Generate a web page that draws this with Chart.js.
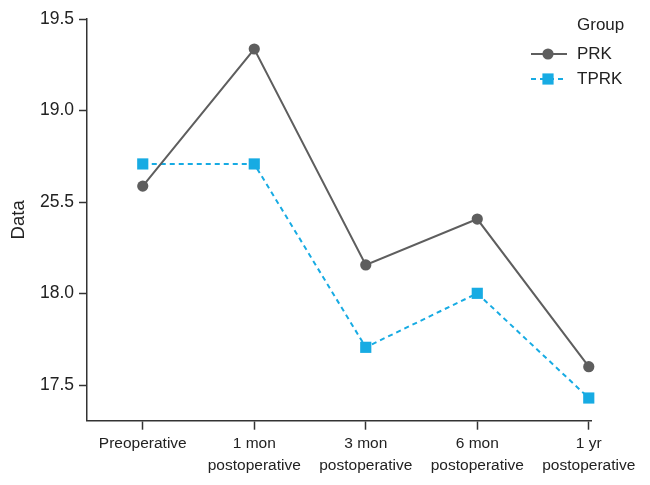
<!DOCTYPE html>
<html>
<head>
<meta charset="utf-8">
<script src="https://cdn.jsdelivr.net/npm/chart.js@4/dist/chart.umd.min.js"></script>
<style>
  html, body { margin: 0; padding: 0; background: #fff; }
  #wrap { width: 650px; height: 485px; position: relative; }
</style>
</head>
<body>
<div id="wrap"><canvas id="c" width="650" height="485"></canvas></div>
<script>
// ---- data ----
const categories = [
  ["Preoperative"],
  ["1 mon", "postoperative"],
  ["3 mon", "postoperative"],
  ["6 mon", "postoperative"],
  ["1 yr", "postoperative"]
];
const seriesNames = ["PRK", "TPRK"];
const prkValues  = [18.587, 19.336, 18.156, 18.407, 17.600];
const tprkValues = [18.708, 18.708, 17.706, 18.001, 17.429];
const yTickValues = [17.5, 18.0, 18.5, 19.0, 19.5];
const yTickLabels = ["17.5", "18.0", "25.5", "19.0", "19.5"];
const legendTitle = "Group";
const yAxisTitle = "Data";

const FONT = "'Liberation Sans', Arial, Helvetica, sans-serif";
const TEXT = '#222';
const GRAY = '#5e5e5e';
const BLUE = '#17abe3';

function toPts(vals) { return vals.map((v, i) => ({ x: i, y: v })); }

const legendPlugin = {
  id: 'customLegend',
  afterDraw(chart) {
    const ctx = chart.ctx;
    ctx.save();
    ctx.font = '17px ' + FONT;
    ctx.fillStyle = TEXT;
    ctx.textBaseline = 'middle';
    ctx.textAlign = 'left';
    ctx.fillText(legendTitle, 577, 25);
    const rows = [
      { y: 54, name: seriesNames[0], color: GRAY, dash: [], shape: 'circle' },
      { y: 79, name: seriesNames[1], color: BLUE, dash: [5, 4], shape: 'rect' }
    ];
    rows.forEach(r => {
      ctx.strokeStyle = r.color;
      ctx.lineWidth = 2;
      ctx.setLineDash(r.dash);
      ctx.beginPath();
      ctx.moveTo(531, r.y);
      ctx.lineTo(567, r.y);
      ctx.stroke();
      ctx.setLineDash([]);
      ctx.fillStyle = r.color;
      ctx.beginPath();
      if (r.shape === 'circle') {
        ctx.arc(548, r.y, 5.6, 0, Math.PI * 2);
      } else {
        ctx.rect(548 - 5.6, r.y - 5.6, 11.2, 11.2);
      }
      ctx.fill();
      ctx.fillStyle = TEXT;
      ctx.fillText(r.name, 577, r.y);
    });
    ctx.restore();
  }
};

new Chart(document.getElementById('c'), {
  type: 'line',
  data: {
    datasets: [
      {
        label: seriesNames[0],
        data: toPts(prkValues),
        borderColor: GRAY,
        backgroundColor: GRAY,
        borderWidth: 2,
        pointStyle: 'circle',
        pointRadius: 5.6,
        pointBorderWidth: 0,
        pointBackgroundColor: GRAY,
        tension: 0,
        clip: false
      },
      {
        label: seriesNames[1],
        data: toPts(tprkValues),
        borderColor: BLUE,
        backgroundColor: BLUE,
        borderWidth: 2,
        borderDash: [5, 4],
        pointStyle: 'rect',
        pointRadius: 7.9,
        pointBorderWidth: 0,
        pointBackgroundColor: BLUE,
        tension: 0,
        clip: false
      }
    ]
  },
  options: {
    responsive: false,
    animation: false,
    devicePixelRatio: 1,
    layout: { padding: { top: 19, right: 59, bottom: 0, left: 0 } },
    plugins: {
      legend: { display: false },
      tooltip: { enabled: false }
    },
    scales: {
      x: {
        type: 'linear',
        min: -0.5,
        max: 4.02,
        afterBuildTicks(scale) {
          scale.ticks = categories.map((c, i) => ({ value: i }));
        },
        afterFit(scale) { scale.height = 64.3; },
        ticks: {
          autoSkip: false,
          maxRotation: 0,
          minRotation: 0,
          padding: 3,
          color: TEXT,
          font: { family: FONT, size: 15.5, lineHeight: 1.42 },
          callback(v) {
            const i = Math.round(v);
            return categories[i] || '';
          }
        },
        grid: {
          drawOnChartArea: false,
          drawTicks: true,
          tickLength: 9,
          tickColor: '#333',
          tickWidth: 1.5
        },
        border: { display: true, color: '#333', width: 1.5 }
      },
      y: {
        type: 'linear',
        min: 17.305,
        max: 19.5,
        afterBuildTicks(scale) {
          scale.ticks = yTickValues.map(v => ({ value: v }));
        },
        afterFit(scale) { scale.width = 87; },
        ticks: {
          padding: 5,
          color: TEXT,
          font: { family: FONT, size: 17.5 },
          callback(v) {
            const i = yTickValues.findIndex(t => Math.abs(t - v) < 1e-6);
            return i >= 0 ? yTickLabels[i] : '';
          }
        },
        title: {
          display: true,
          text: yAxisTitle,
          color: TEXT,
          font: { family: FONT, size: 18.5 },
          padding: { top: 8, bottom: 0 }
        },
        grid: {
          drawOnChartArea: false,
          drawTicks: true,
          tickLength: 8,
          tickColor: '#333',
          tickWidth: 1.5
        },
        border: { display: true, color: '#333', width: 1.5 }
      }
    }
  },
  plugins: [legendPlugin]
});
</script>
</body>
</html>
